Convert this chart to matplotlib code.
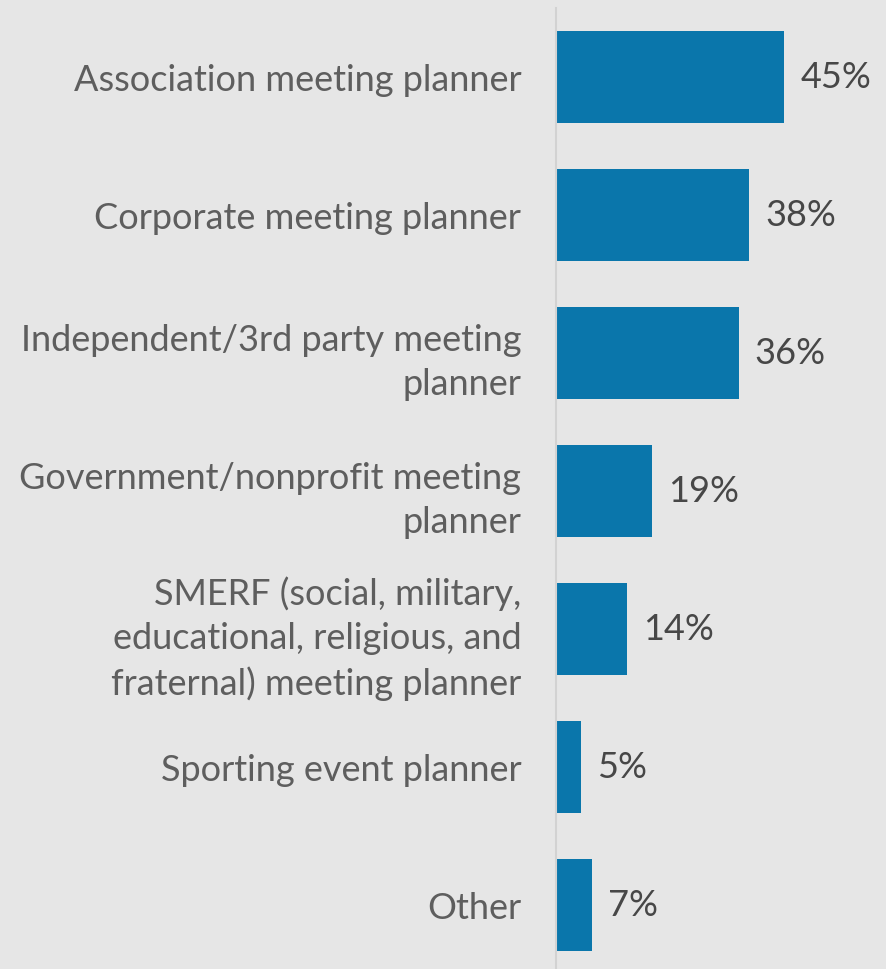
import matplotlib
matplotlib.use("Agg")
import matplotlib.pyplot as plt

categories = [
    "Association meeting planner",
    "Corporate meeting planner",
    "Independent/3rd party meeting\nplanner",
    "Government/nonprofit meeting\nplanner",
    "SMERF (social, military,\neducational, religious, and\nfraternal) meeting planner",
    "Sporting event planner",
    "Other",
]
values = [45, 38, 36, 19, 14, 5, 7]

plt.rcParams['font.family'] = ['Lato', 'DejaVu Sans']

W, H = 886, 970
fig = plt.figure(figsize=(W / 100, H / 100), dpi=100)
fig.patch.set_facecolor('#e6e6e6')

ax_left = 556 / W
ax_top = 9
ax_bottom = 970
ax = fig.add_axes([ax_left, 0, 1 - ax_left, (ax_bottom - ax_top) / H])
ax.set_facecolor('#e6e6e6')

ypos = list(range(len(categories)))
ax.barh(ypos, values, height=0.667, color='#0a76ab', zorder=2)
ax.set_xlim(0, 65)
ax.set_ylim(6.5 - 5 / 138, -0.5)

for s in ['top', 'right', 'bottom']:
    ax.spines[s].set_visible(False)
ax.spines['left'].set_color('#d2d2d2')
ax.spines['left'].set_linewidth(1.5)
ax.set_xticks([])
ax.set_yticks(ypos)
ax.set_yticklabels(categories, fontsize=26, color='#5e5e5e', ha='right',
                   multialignment='right', linespacing=1.4, fontweight='normal')
ax.tick_params(axis='y', length=0, pad=25)

for y, v in zip(ypos, values):
    ax.text(v + 16 / 5.07, y, f"{v}%", va='center', ha='left',
            fontsize=26, color='#474747', fontweight='normal')

fig.savefig('out.png', dpi=100, facecolor=fig.get_facecolor())
